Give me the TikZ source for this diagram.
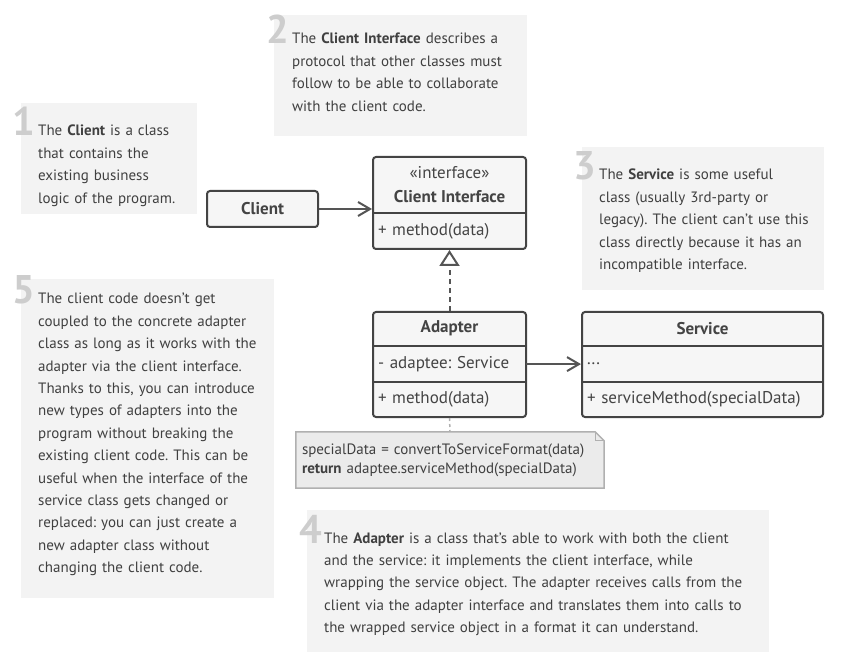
\documentclass[tikz,border=0pt]{standalone}
\usepackage{fontspec}
\setmainfont{PT Sans}
\frenchspacing
\usetikzlibrary{positioning}
\usetikzlibrary{arrows.meta}
\usetikzlibrary{backgrounds}
\definecolor{panelgray}{HTML}{F3F3F3}
\definecolor{numgray}{HTML}{CDCDCD}
\definecolor{textdark}{HTML}{404040}
\definecolor{boxline}{HTML}{444444}
\definecolor{boxfill}{HTML}{F6F6F6}
\definecolor{arrowgray}{HTML}{555555}
\definecolor{notefill}{HTML}{EBEBEB}
\definecolor{noteline}{HTML}{B0B0B0}
\newcommand\bodyfont{\fontsize{15pt}{22.4pt}\selectfont}
\newcommand\classfont{\fontsize{17pt}{24pt}\selectfont}
\tikzset{
    panel/.style={
        fill=panelgray,
        anchor=north west,
        inner sep=0pt},
    stepnum/.style={
        anchor=base east,
        inner sep=0pt,
        text=numgray,
        font=\fontsize{40pt}{40pt}\selectfont\bfseries},
    blurb/.style={
        anchor=base west,
        inner sep=0pt,
        align=left,
        text=textdark,
        font=\bodyfont},
    classbox/.style={
        draw=boxline,
        fill=boxfill,
        line width=2pt,
        rounded corners=3pt,
        inner sep=0pt},
    classhead/.style={
        minimum width=#1,
        minimum height=35pt,
        inner sep=0pt,
        align=center,
        text=boxline,
        font=\classfont\bfseries},
    classrow/.style={
        text width=#1,
        minimum height=35pt,
        inner xsep=5pt,
        inner ysep=0pt,
        align=left,
        text=boxline,
        font=\classfont},
    divline/.style={
        draw=boxline,
        line width=2pt},
    assoc/.style={
        draw=arrowgray,
        line width=2pt,
        -{Straight Barb[length=12pt,width=14pt]}},
    realize/.style={
        draw=arrowgray,
        line width=2pt,
        dash pattern=on 5pt off 4pt,
        -{Triangle[open,length=16pt,width=20pt]}},
    notelink/.style={
        draw=noteline,
        line width=1.5pt,
        dash pattern=on 3pt off 3pt},
    notebox/.style={
        fill=notefill,
        draw=noteline,
        line width=1.5pt}}

\begin{document}
\begin{tikzpicture}[x=1pt,y=-1pt]
        \useasboundingbox (0,0) rectangle (844,663);

        \node[panel, minimum width=176pt, minimum height=111pt] (p1) at (21,103) {};
        \node[panel, minimum width=253pt, minimum height=121pt] (p2) at (274,15) {};
        \node[panel, minimum width=242pt, minimum height=143pt] (p3) at (582,147) {};
        \node[panel, minimum width=462pt, minimum height=142pt] (p4) at (307,510) {};
        \node[panel, minimum width=253pt, minimum height=319pt] (p5) at (21,279) {};

        \node[stepnum] (n1) at (35,136) {1};
        \node[stepnum] (n2) at (289,44) {2};
        \node[stepnum] (n3) at (596,180) {3};
        \node[stepnum] (n4) at (322,543) {4};
        \node[stepnum] (n5) at (35,304) {5};

        \node[blurb, text width=155pt] (t1) at (38,136) {The \textbf{Client} is a class\\that contains the\\existing business\\logic of the program.};
        \node[blurb, text width=230pt] (t2) at (292,44) {The \textbf{Client Interface} describes a\\protocol that other classes must\\follow to be able to collaborate\\with the client code.};
        \node[blurb, text width=220pt] (t3) at (599,180) {The \textbf{Service} is some useful\\class (usually 3rd-party or\\legacy). The client can’t use this\\class directly because it has an\\incompatible interface.};
        \node[blurb, text width=440pt] (t4) at (324,543) {The \textbf{Adapter} is a class that’s able to work with both the client\\and the service: it implements the client interface, while\\wrapping the service object. The adapter receives calls from the\\client via the adapter interface and translates them into calls to\\the wrapped service object in a format it can understand.};
        \node[blurb, text width=232pt] (t5) at (38,304) {The client code doesn’t get\\coupled to the concrete adapter\\class as long as it works with the\\adapter via the client interface.\\Thanks to this, you can introduce\\new types of adapters into the\\program without breaking the\\existing client code. This can be\\useful when the interface of the\\service class gets changed or\\replaced: you can just create a\\new adapter class without\\changing the client code.};

        \node[classbox, minimum width=111pt, minimum height=36pt, text=boxline, font=\classfont\bfseries] (client) at (262.5,209) {Client};

        \node[classbox, minimum width=153pt, minimum height=92pt] (ci) at (449.5,203) {};
        \node[classhead=153pt, minimum height=57pt, below=0pt of ci.north] (cihead) {\mdseries«interface»\\Client Interface};
        \node[classrow=143pt, below=0pt of cihead] (cimeth) {+ method(data)};
        \draw[divline] (cihead.south west) -- (cihead.south east);

        \node[classbox, minimum width=153pt, minimum height=105pt] (ad) at (449.5,364.5) {};
        \node[classhead=153pt, below=0pt of ad.north] (adhead) {Adapter};
        \node[classrow=143pt, below=0pt of adhead] (adattr) {- adaptee: Service};
        \node[classrow=143pt, below=0pt of adattr] (admeth) {+ method(data)};
        \draw[divline] (adhead.south west) -- (adhead.south east);
        \draw[divline] (adattr.south west) -- (adattr.south east);

        \node[classbox, minimum width=241pt, minimum height=105pt] (sv) at (702.5,364.5) {};
        \node[classhead=241pt, below=0pt of sv.north] (svhead) {Service};
        \node[classrow=231pt, below=0pt of svhead] (svattr) {...};
        \node[classrow=231pt, below=0pt of svattr] (svmeth) {+ serviceMethod(specialData)};
        \draw[divline] (svhead.south west) -- (svhead.south east);
        \draw[divline] (svattr.south west) -- (svattr.south east);

        \node[minimum width=308pt, minimum height=56pt, text width=296pt, inner xsep=6pt, inner ysep=0pt, align=left, text=textdark, font=\fontsize{15pt}{19pt}\selectfont] (note) at (450,460) {specialData = convertToServiceFormat(data)\\\textbf{return} adaptee.serviceMethod(specialData)};
        \begin{scope}[on background layer]
            \draw[notebox] (note.north west) -- ([xshift=-9pt]note.north east) -- ([yshift=-9pt]note.north east) -- (note.south east) -- (note.south west) -- cycle;
        \end{scope}
        \draw[notebox, fill=none, line width=1pt] ([xshift=-9pt]note.north east) -- ([xshift=-9pt,yshift=-9pt]note.north east) -- ([yshift=-9pt]note.north east);

        \draw[assoc] (client.east) -- (client.east -| ci.west);
        \draw[realize] (ad.north) -- (ci.south);
        \draw[assoc] (adattr.east) -- (adattr.east -| sv.west);
        \draw[notelink] (ad.south) -- (note.north);
    \end{tikzpicture}
\end{document}
